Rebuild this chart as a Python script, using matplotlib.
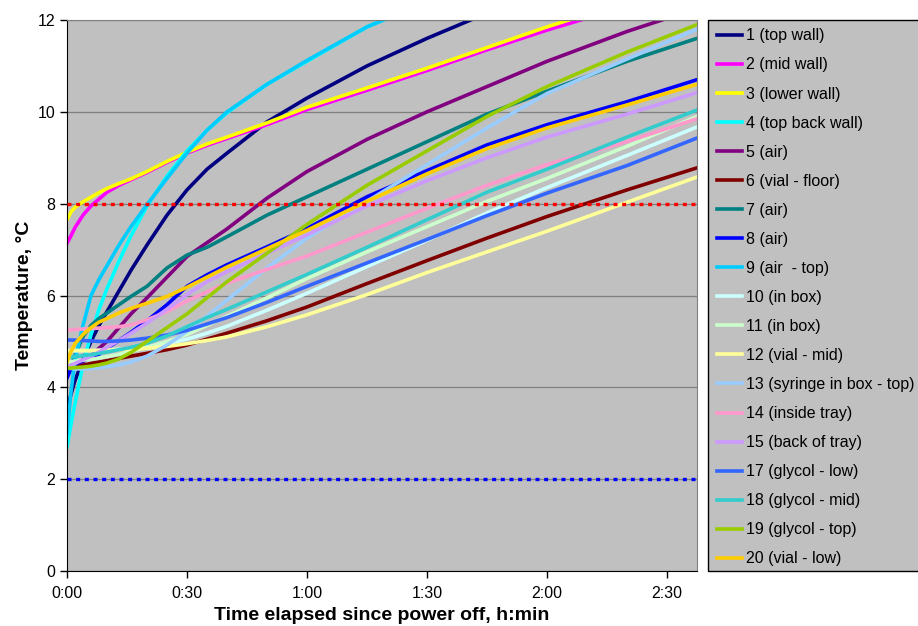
import matplotlib
matplotlib.use("Agg")
import matplotlib.pyplot as plt
from matplotlib.patches import Rectangle

plt.rcParams['font.family'] = ['Liberation Sans', 'DejaVu Sans']

# time since power off, minutes
t_min = [0, 1, 2, 4, 6, 8, 10, 13, 16, 20, 25, 30, 35, 40, 50, 60, 75, 90, 105, 120, 140, 157.5]

s1 = [3.5, 3.85, 4.15, 4.6, 5.0, 5.35, 5.65, 6.1, 6.55, 7.1, 7.75, 8.3, 8.75, 9.1, 9.78, 10.3, 11.0, 11.6, 12.15, 12.65, 13.3, 13.8]
s2 = [7.14, 7.3, 7.48, 7.75, 7.95, 8.1, 8.25, 8.4, 8.52, 8.68, 8.9, 9.1, 9.27, 9.42, 9.72, 10.05, 10.47, 10.9, 11.35, 11.78, 12.3, 12.8]
s3 = [7.65, 7.82, 7.92, 8.04, 8.14, 8.24, 8.33, 8.44, 8.54, 8.7, 8.92, 9.12, 9.3, 9.45, 9.76, 10.1, 10.52, 10.95, 11.4, 11.85, 12.4, 12.9]
s4 = [2.7, 3.2, 3.65, 4.5, 5.15, 5.7, 6.15, 6.75, 7.3, 7.95, 8.6, 9.15, 9.6, 9.98, 10.6, 11.1, 11.85, 12.4, 12.9, 13.3, 13.7, 14.0]
s5 = [4.4, 4.42, 4.45, 4.55, 4.7, 4.85, 5.0, 5.3, 5.6, 5.95, 6.4, 6.85, 7.15, 7.45, 8.12, 8.7, 9.4, 10.0, 10.55, 11.1, 11.75, 12.25]
s6 = [4.42, 4.43, 4.45, 4.48, 4.52, 4.55, 4.58, 4.63, 4.68, 4.74, 4.82, 4.92, 5.05, 5.18, 5.45, 5.75, 6.26, 6.76, 7.25, 7.72, 8.3, 8.78]
s7 = [4.3, 4.45, 4.7, 5.1, 5.35, 5.5, 5.62, 5.8, 5.98, 6.2, 6.6, 6.88, 7.05, 7.28, 7.75, 8.15, 8.75, 9.35, 9.95, 10.45, 11.1, 11.6]
s8 = [4.2, 4.4, 4.5, 4.58, 4.64, 4.72, 4.85, 5.02, 5.2, 5.45, 5.8, 6.2, 6.45, 6.67, 7.06, 7.46, 8.15, 8.72, 9.28, 9.72, 10.22, 10.7]
s9 = [3.0, 3.9, 4.6, 5.35, 6.0, 6.35, 6.65, 7.1, 7.5, 7.98, 8.55, 9.1, 9.6, 10.0, 10.6, 11.12, 11.85, 12.4, 12.9, 13.3, 13.7, 14.0]
s10 = [4.8, 4.8, 4.8, 4.8, 4.8, 4.81, 4.82, 4.83, 4.85, 4.88, 4.95, 5.05, 5.18, 5.33, 5.68, 6.05, 6.63, 7.2, 7.8, 8.35, 9.05, 9.67]
s11 = [4.55, 4.56, 4.57, 4.59, 4.61, 4.64, 4.67, 4.72, 4.78, 4.87, 5.0, 5.15, 5.35, 5.55, 5.95, 6.37, 6.95, 7.5, 8.05, 8.55, 9.25, 9.9]
s12 = [4.8, 4.8, 4.8, 4.8, 4.8, 4.8, 4.81, 4.82, 4.83, 4.85, 4.89, 4.95, 5.02, 5.1, 5.32, 5.58, 6.02, 6.5, 6.95, 7.4, 8.03, 8.58]
s13 = [4.42, 4.41, 4.4, 4.4, 4.41, 4.43, 4.45, 4.49, 4.55, 4.68, 4.92, 5.22, 5.55, 5.9, 6.6, 7.25, 8.05, 8.85, 9.65, 10.4, 11.15, 11.8]
s14 = [5.25, 5.25, 5.26, 5.27, 5.28, 5.29, 5.3, 5.32, 5.36, 5.47, 5.65, 5.88, 6.08, 6.27, 6.57, 6.86, 7.38, 7.9, 8.4, 8.85, 9.35, 9.85]
s15 = [4.45, 4.48, 4.52, 4.6, 4.68, 4.77, 4.87, 5.02, 5.18, 5.4, 5.7, 6.02, 6.3, 6.52, 6.92, 7.32, 7.95, 8.5, 9.0, 9.45, 9.95, 10.42]
s17 = [5.03, 5.03, 5.03, 5.02, 5.01, 5.0, 5.0, 5.01, 5.03, 5.07, 5.14, 5.24, 5.38, 5.52, 5.85, 6.2, 6.71, 7.22, 7.74, 8.23, 8.83, 9.43]
s18 = [4.65, 4.66, 4.67, 4.69, 4.71, 4.74, 4.77, 4.82, 4.87, 4.96, 5.12, 5.32, 5.52, 5.7, 6.08, 6.46, 7.05, 7.65, 8.25, 8.75, 9.45, 10.04]
s19 = [4.42, 4.42, 4.43, 4.44, 4.46, 4.49, 4.53, 4.62, 4.76, 5.0, 5.3, 5.6, 5.95, 6.3, 6.92, 7.55, 8.4, 9.15, 9.9, 10.55, 11.3, 11.9]
s20 = [4.55, 4.78, 4.95, 5.15, 5.3, 5.42, 5.5, 5.62, 5.72, 5.83, 5.98, 6.18, 6.4, 6.62, 7.02, 7.42, 8.05, 8.65, 9.2, 9.65, 10.15, 10.6]

labels = ["1 (top wall)", "2 (mid wall)", "3 (lower wall)", "4 (top back wall)", "5 (air)",
          "6 (vial - floor)", "7 (air)", "8 (air)", "9 (air  - top)", "10 (in box)", "11 (in box)",
          "12 (vial - mid)", "13 (syringe in box - top)", "14 (inside tray)", "15 (back of tray)",
          "17 (glycol - low)", "18 (glycol - mid)", "19 (glycol - top)", "20 (vial - low)"]
colors = ["#000080", "#FF00FF", "#FFFF00", "#00FFFF", "#800080", "#800000", "#008080", "#0000FF",
          "#00CCFF", "#CCFFFF", "#CCFFCC", "#FFFF99", "#99CCFF", "#FF99CC", "#CC99FF",
          "#3366FF", "#33CCCC", "#99CC00", "#FFCC00"]
series = [s1, s2, s3, s4, s5, s6, s7, s8, s9, s10, s11, s12, s13, s14, s15, s17, s18, s19, s20]

upper_limit = 8
lower_limit = 2
x_ticks = [0, 30, 60, 90, 120, 150]
x_ticklabels = ["0:00", "0:30", "1:00", "1:30", "2:00", "2:30"]

fig = plt.figure(figsize=(9.18, 6.26), dpi=100)
ax = fig.add_axes([67/918, 55/626, 630/918, 551/626])
ax.set_facecolor("#C0C0C0")

for y, c, lab in zip(series, colors, labels):
    ax.plot(t_min, y, color=c, lw=2.6, label=lab)

ax.axhline(upper_limit, color="#FF0000", lw=2.4, linestyle=(0, (1.2, 1.4)), dash_capstyle='butt', zorder=5)
ax.axhline(lower_limit, color="#0000FF", lw=2.4, linestyle=(0, (1.2, 1.4)), dash_capstyle='butt', zorder=5)

ax.set_xlim(0, 157.5)
ax.set_ylim(0, 12)
ax.set_yticks(range(0, 13, 2))
ax.set_xticks(x_ticks)
ax.set_xticklabels(x_ticklabels)
ax.grid(axis='y', color="#808080", lw=0.9)
ax.set_axisbelow(True)
ax.tick_params(labelsize=11.5, direction='out', length=5, width=1, color='black')
ax.tick_params(axis='x', pad=6)

ax.spines['left'].set_color('black')
ax.spines['bottom'].set_color('black')
ax.spines['top'].set_color('#808080')
ax.spines['right'].set_color('#808080')

ax.set_xlabel("Time elapsed since power off, h:min", fontsize=14, fontweight='bold', labelpad=4)
ax.set_ylabel("Temperature, °C", fontsize=14, fontweight='bold', labelpad=3)

# legend box
fig.patches.append(Rectangle((708/918, 55/626), 1, 551/626, transform=fig.transFigure,
                             facecolor="#C0C0C0", edgecolor="black", lw=1))
handles, labs = ax.get_legend_handles_labels()
fig.legend(handles, labs, loc='upper left', bbox_to_anchor=(711/918, 1 - 22/626),
           frameon=False, fontsize=11.5, handlelength=1.55, handletextpad=0.25,
           labelspacing=0.88, borderaxespad=0)

fig.savefig("out.png", dpi=100)
